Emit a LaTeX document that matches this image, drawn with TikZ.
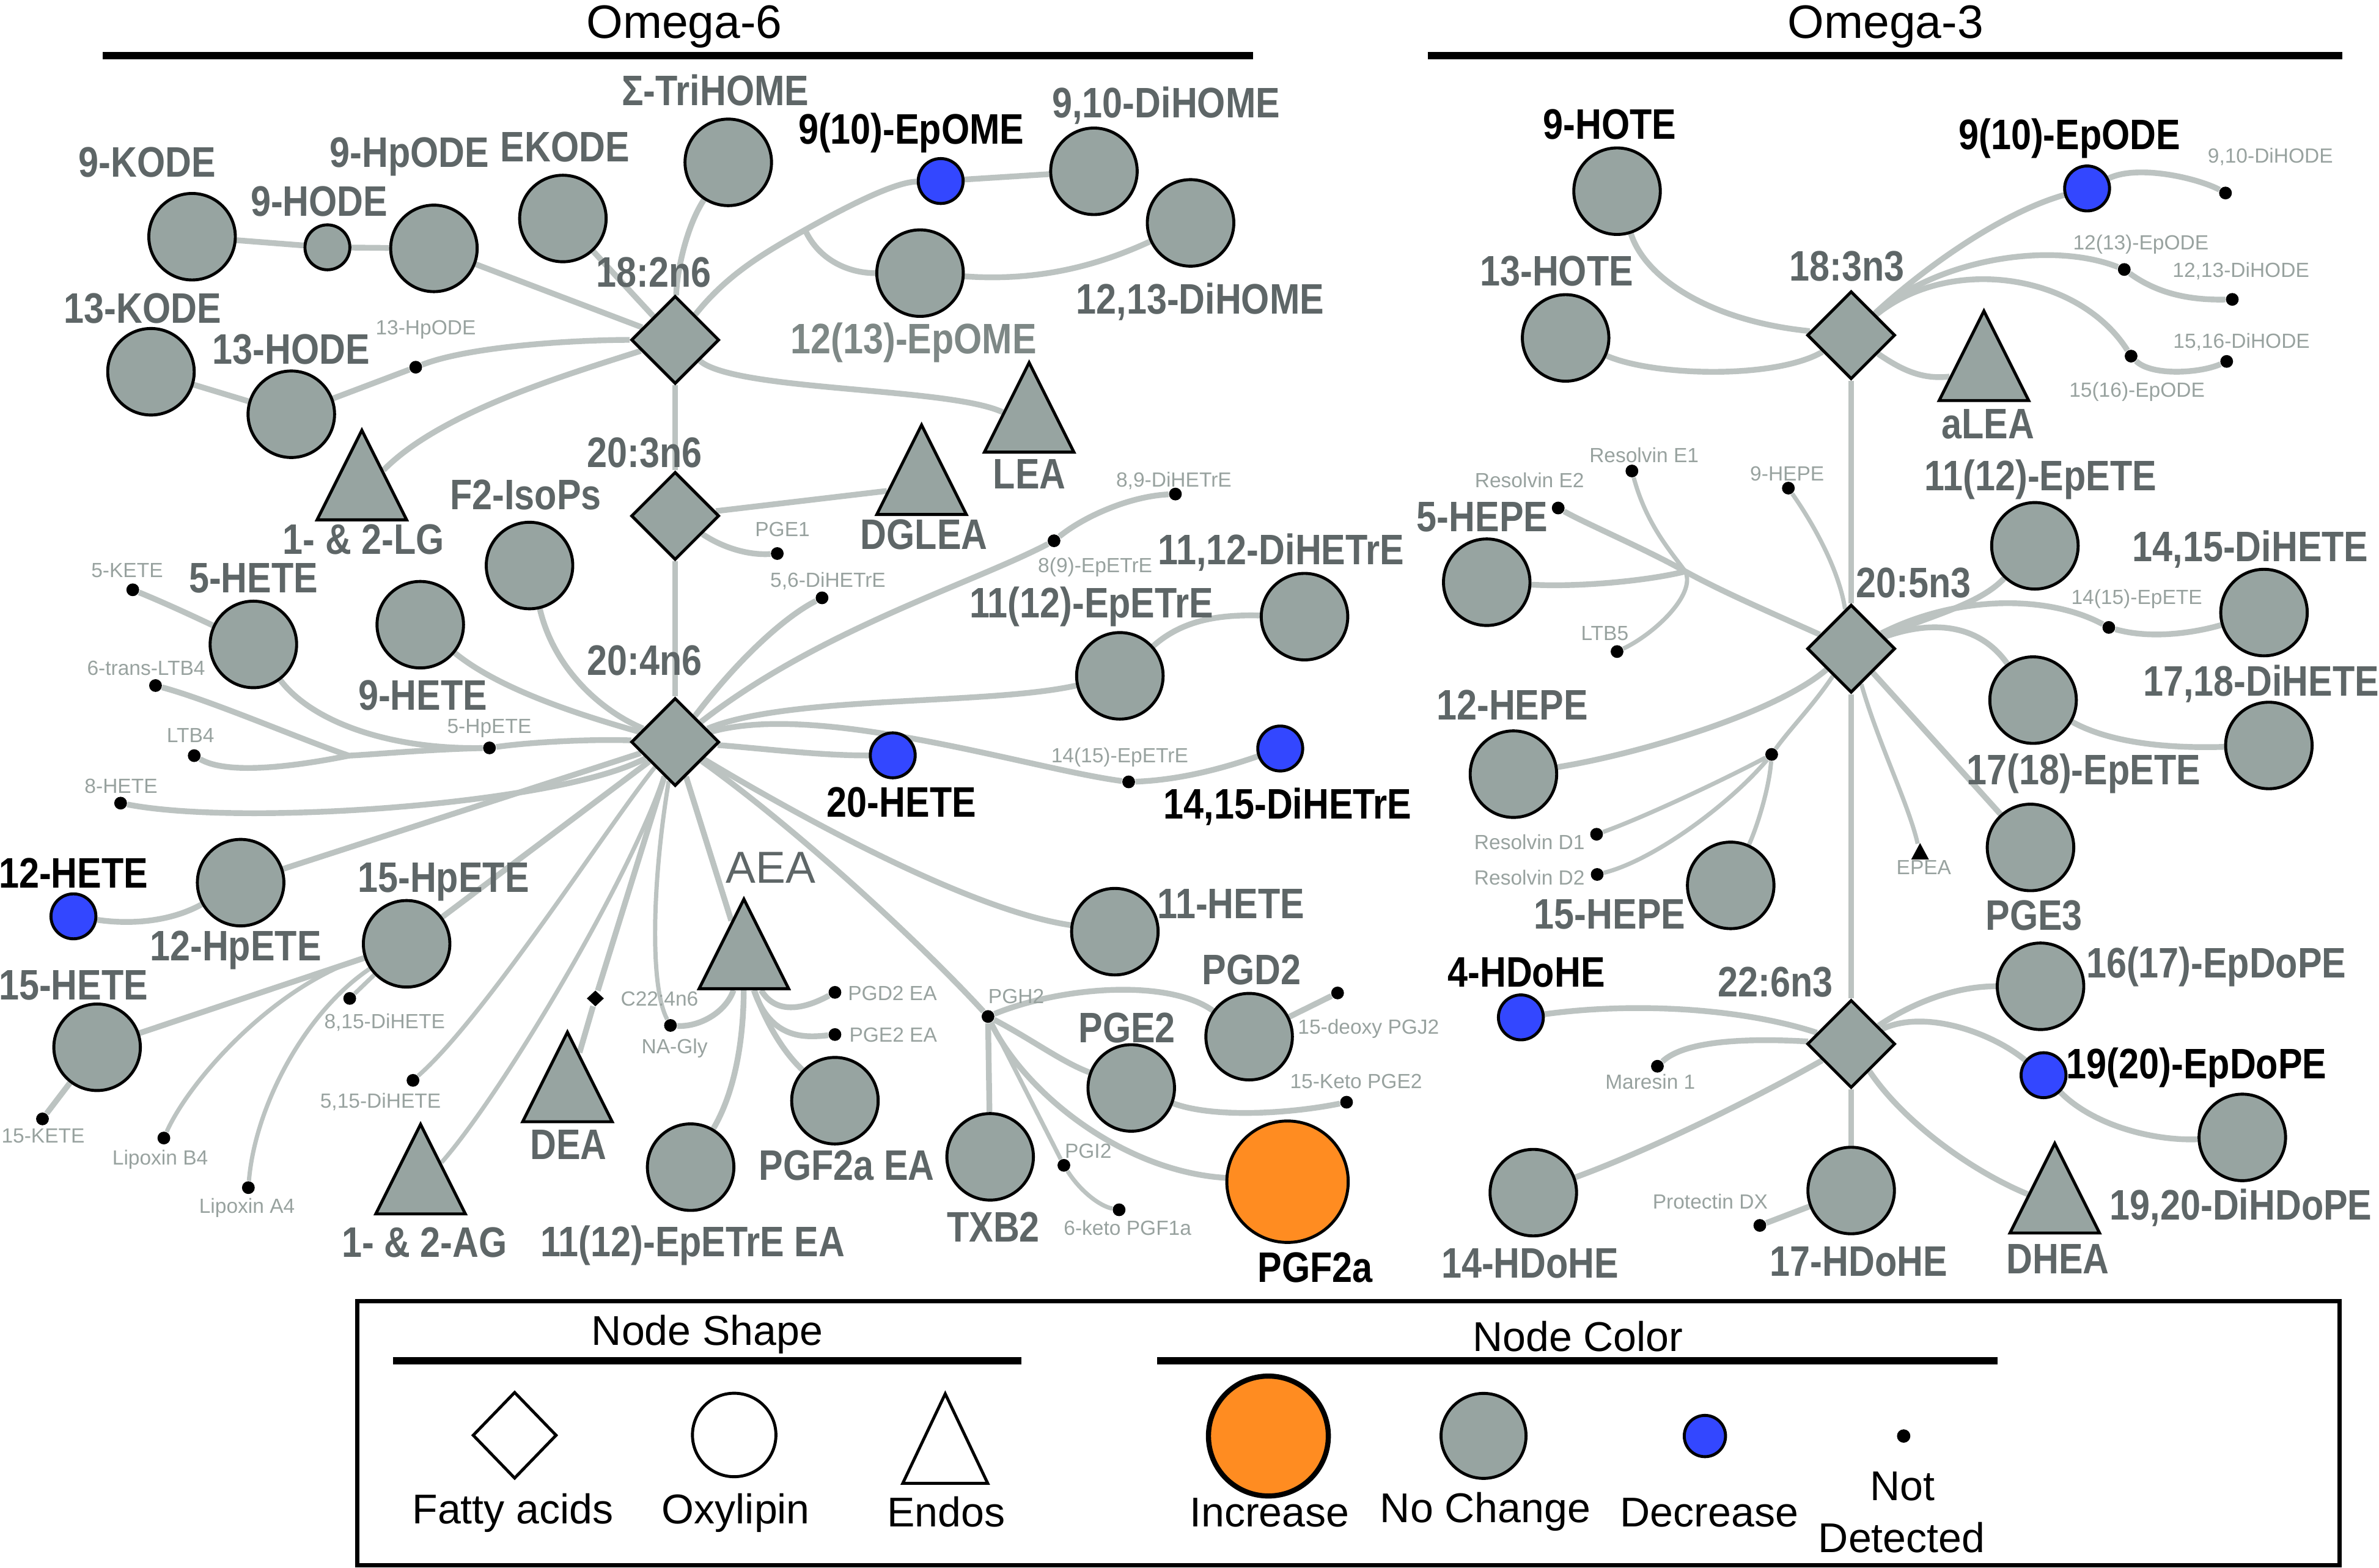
\documentclass[tikz,border=0pt]{standalone}
\usepackage{fontspec}
\setmainfont{Liberation Sans}
\newfontfamily\lblfont{Liberation Sans}[FakeStretch=0.85]
\usetikzlibrary{shapes.geometric,backgrounds}
\definecolor{nodeGray}{HTML}{97A4A1}
\definecolor{linkGray}{HTML}{BCC3C1}
\definecolor{textGray}{HTML}{5E6667}
\definecolor{paleGray}{HTML}{7E8886}
\definecolor{ndGray}{HTML}{98A29F}
\definecolor{decBlue}{HTML}{3347FF}
\definecolor{incOrange}{HTML}{FF8C21}

\begin{document}
\begin{tikzpicture}[x=0.025cm,y=-0.025cm,
    oxy/.style={circle,draw=black,line width=1.4pt,fill=nodeGray,minimum size=1.425cm,inner sep=0pt},
    oxysmall/.style={oxy,minimum size=0.74cm},
    dec/.style={oxy,fill=decBlue,minimum size=0.74cm},
    inc/.style={oxy,fill=incOrange,minimum size=2cm},
    fatty/.style={diamond,draw=black,line width=1.4pt,fill=nodeGray,minimum width=1.45cm,minimum height=1.45cm,inner sep=0pt},
    endo/.style={isosceles triangle,shape border rotate=90,isosceles triangle stretches,draw=black,line width=1.4pt,fill=nodeGray,minimum width=1.475cm,minimum height=1.475cm,inner sep=0pt,anchor=apex},
    nd/.style={circle,fill=black,minimum size=0.21cm,inner sep=0pt},
    big/.style={font=\lblfont\bfseries\fontsize{20}{24}\selectfont,text=textGray,inner sep=0pt,text height=14.3pt,text depth=0pt},
    bigk/.style={big,text=black},
    small/.style={font=\fontsize{9.6}{11}\selectfont,text=ndGray,inner sep=0pt,text height=6.9pt,text depth=0pt},
    link/.style={draw=linkGray,line width=2.7pt},
    thinlink/.style={link,line width=2pt},
    legtext/.style={font=\fontsize{19.5}{23}\selectfont,inner sep=0pt,text height=14pt,text depth=0pt}]
  \useasboundingbox (0,0) rectangle (1568,1033);

  % titles
  \node[font=\fontsize{22}{26}\selectfont,inner sep=0pt,text height=15.8pt,text depth=0pt] (om6) at (451,14) {Omega-6};
  \node[font=\fontsize{22}{26}\selectfont,inner sep=0pt,text height=15.8pt,text depth=0pt] (om3) at (1242.8,14) {Omega-3};
  \draw[line width=3.3pt] (67.8,36.6) -- (826,36.6);
  \draw[line width=3.3pt] (941,36.6) -- (1543.7,36.6);

  % fatty acids
  \foreach \n/\x/\y/\lx/\ly/\t in {fa182/445/224/431/179/18:2n6, fa203/445/340/425/298/20:3n6,
      fa204/445/489/425/435/20:4n6, fa183/1220.1/220.9/1217.3/175.2/18:3n3,
      fa205/1220.1/427.5/1261.2/383.8/20:5n3, fa226/1220.1/688/1170.2/646.8/22:6n3}{
    \node[fatty] (\n) at (\x,\y) {};
    \node[big] (\n-t) at (\lx,\ly) {\t};
  }

  % oxylipins, no change
  \foreach \n/\x/\y/\lx/\ly/\t in {kode9/126.6/156/97/106.5/9-KODE, hpode9/286/163.7/270/100/9-HpODE,
      ekode/371/144/372.4/96.5/EKODE, trihome/480/107/471.5/59.5/Σ-TriHOME,
      dihome910/721/112.9/768.6/67.4/{9,10-DiHOME}, dihome1213/784.7/146.9/791/196.7/{12,13-DiHOME},
      kode13/99.5/245/94/203/13-KODE, hode13/192/273/192/229.8/13-HODE,
      isops/349/372.7/346.5/325.8/F2-IsoPs, hete5/167/424.7/167/380.7/5-HETE,
      hete9/277/411.7/278.6/458/9-HETE, hpete12/158.6/581.7/155.3/623/12-HpETE,
      hpete15/268/622/292.3/577.8/15-HpETE, hete15/64/690.2/48.4/648.8/15-HETE,
      epetreea/455.2/769.2/456.5/818/11(12)-EpETrE EA, pgf2aea/550.3/725.4/558/767.5/PGF2a EA,
      hete11/734.8/614/811.3/595.4/11-HETE, pgd2/823.3/683.2/824.8/638.7/PGD2,
      pge2/745.6/717/742.8/677/PGE2, txb2/652.6/762.4/654.7/808.4/TXB2,
      epetre11/738.1/445.4/719.4/397/11(12)-EpETrE, dihetre1112/859.8/406.4/844.4/362/{11,12-DiHETrE},
      hote13/1031.9/222.7/1026/178.3/13-HOTE, hepe5/979.9/383.7/977/340.3/5-HEPE,
      epete11/1341.2/359.7/1345/313.4/11(12)-EpETE, dihete1415/1492.2/403.7/1483.2/360/{14,15-DiHETE},
      epete17/1340/461.4/1373.3/507/17(18)-EpETE, dihete1718/1495.4/491.3/1490.3/448.5/{17,18-DiHETE},
      pge3/1338.3/558.5/1340.6/603/PGE3, hepe12/997.5/510.2/996.7/464.5/12-HEPE,
      hepe15/1140.7/583.5/1061/602/15-HEPE, epdope16/1344.9/650/1460.7/634.4/16(17)-EpDoPE,
      dihdope/1477.9/749.6/1477/793.8/{19,20-DiHDoPE}, hdohe14/1010.6/786/1008.5/832.3/14-HDoHE,
      hdohe17/1220.1/784.6/1225/830.8/17-HDoHE}{
    \node[oxy] (\n) at (\x,\y) {};
    \node[big] (\n-t) at (\lx,\ly) {\t};
  }
  \node[oxysmall] (hode9) at (215.8,163) {};
  \node[big] (hode9-t) at (210.4,132.5) {9-HODE};
  \node[oxy] (epome12) at (606.4,180) {};
  \node[big,text=paleGray] (epome12-t) at (602.2,223.2) {12(13)-EpOME};
  \node[oxy] (hote9) at (1065.8,126) {};
  \node[bigk] (hote9-t) at (1061,81.5) {9-HOTE};

  % decreased and increased
  \foreach \n/\x/\y/\lx/\ly/\t in {epome9/620/119.3/600.6/85/9(10)-EpOME, hete12/48.4/603.9/48.4/575/12-HETE,
      hete20/588.4/497.8/594.2/528.5/20-HETE, dihetre1415/843.8/493.3/848.7/529.5/{14,15-DiHETrE},
      epode9/1375.6/124.2/1364/88.5/9(10)-EpODE, hdohe4/1002.4/670.5/1006/640.4/4-HDoHE,
      epdope19/1346.9/708.6/1447.8/700.7/19(20)-EpDoPE}{
    \node[dec] (\n) at (\x,\y) {};
    \node[bigk] (\n-t) at (\lx,\ly) {\t};
  }
  \node[inc] (pgf2a) at (848.6,778.8) {};
  \node[bigk] (pgf2a-t) at (866.8,834.8) {PGF2a};

  % endocannabinoids
  \foreach \n/\x/\y/\lx/\ly/\t in {lg/238.5/281/239.6/355/1- \& 2-LG, lea/678.3/236.4/678.5/312.2/LEA,
      dglea/607.4/277.5/609/352/DGLEA, ag/277.2/738.4/279.8/818.3/1- \& 2-AG,
      dea/374/677.7/374.6/753.9/DEA, alea/1307.6/202.4/1310.3/279.2/aLEA,
      dhea/1354.3/751/1356.3/829.2/DHEA}{
    \node[endo] (\n) at (\x,\y) {};
    \node[big] (\n-t) at (\lx,\ly) {\t};
  }
  \node[endo] (aea) at (490.3,590) {};
  \node[big,font=\fontsize{21}{25}\selectfont] (aea-t) at (508,572) {AEA};

  % not detected
  \foreach \n/\x/\y/\lx/\ly/\t in {hpode13/274/242/280.6/215.8/13-HpODE, pge1/512.3/364.8/515.7/348.8/PGE1,
      dihetre56/541.8/394/545.7/382.3/{5,6-DiHETrE}, epetre8/694.7/356.4/721.8/372.4/8(9)-EpETrE,
      dihetre89/774.7/325.6/773.7/316/{8,9-DiHETrE}, epetre14/743.9/515.3/738/497.8/14(15)-EpETrE,
      kete5/87.5/388.7/83.8/375.7/5-KETE, ltbt/102.5/451.8/96.3/440/6-trans-LTB4,
      ltb4/128/498/125.6/484.5/LTB4, hpete5/322.6/492.9/322.5/478.3/5-HpETE,
      hete8/79.5/529.3/79.8/518/8-HETE, dihete815/230.5/658/253.5/672.9/{8,15-DiHETE},
      dihete515/272.2/712/250.8/725.5/{5,15-DiHETE}, kete15/28/737.4/28.4/748.2/15-KETE,
      lxb4/108/750/105.6/762.8/Lipoxin B4, lxa4/163.7/782.7/162.8/794.5/Lipoxin A4,
      nagly/441.9/675.8/444.6/689.7/NA-Gly, pgd2ea/550.3/654/588.2/654.6/PGD2 EA,
      pge2ea/550.3/681.8/588.7/682/PGE2 EA, pgh2/651.2/669.9/669.8/656.3/PGH2,
      pgj2/881.6/654.4/902/676.5/15-deoxy PGJ2, ketopge2/887.5/726.4/893.8/712.5/15-Keto PGE2,
      pgi2/701.2/768/717.2/758.5/PGI2, ketopgf/737.6/797.3/743.2/809/6-keto PGF1a,
      dihode910/1466.8/127.2/1496.4/102.5/{9,10-DiHODE}, epode12/1400.1/177.6/1411/159.6/12(13)-EpODE,
      dihode1213/1471.3/197.3/1477/178/{12,13-DiHODE}, epode15/1404.6/234.7/1408.5/256.7/15(16)-EpODE,
      dihode1516/1467.6/238.2/1477.4/224.6/{15,16-DiHODE}, rve1/1075.6/310.4/1083.6/299.8/Resolvin E1,
      rve2/1027/334.8/1008.1/316.4/Resolvin E2, hepe9/1178.7/321.7/1177.9/312/9-HEPE,
      ltb5/1065.8/429.4/1057.7/417/LTB5, epete14/1389.9/413.5/1408.3/393.5/14(15)-EpETE,
      rvd1/1052.3/549.8/1008.1/554.8/Resolvin D1, rvd2/1052.7/576.3/1008.1/578.5/Resolvin D2,
      mar1/1092.4/702.7/1087.7/713/Maresin 1, pdx/1159.9/807.6/1127.2/792/Protectin DX}{
    \node[nd] (\n) at (\x,\y) {};
    \node[small] (\n-t) at (\lx,\ly) {\t};
  }
  \node[nd] (hpdot) at (1167.7,497.2) {};
  \node[fatty,fill=black,draw=none,minimum width=0.3cm,minimum height=0.28cm] (c224) at (392.4,658) {};
  \node[small] (c224-t) at (434.7,658) {C22:4n6};
  \node[endo,fill=black,draw=none,minimum width=0.29cm,minimum height=0.27cm] (epea) at (1265.5,553) {};
  \node[small] (epea-t) at (1268,571.6) {EPEA};

  \coordinate (jepome) at (530.6,151.5);
  \coordinate (jltb) at (230,498);
  \coordinate (jhepe) at (1110.8,376.6);

  \begin{scope}[on background layer]
    % 18:2n6 and 20:3n6
    \draw[link] (kode9) -- (hode9) -- (hpode9);
    \draw[link] (hpode9) -- (fa182);
    \draw[link] (ekode) -- (fa182);
    \draw[link] (trihome) .. controls (452,150) and (446,180) .. (fa182);
    \draw[link] (fa182) .. controls (480,180) and (505,166) .. (jepome) .. controls (560,135) and (590,120) .. (epome9);
    \draw[link] (epome9) -- (dihome910);
    \draw[link] (jepome) .. controls (540,172) and (560,180) .. (epome12);
    \draw[link] (epome12) .. controls (690,186) and (730,172) .. (dihome1213);
    \draw[link] (fa182) .. controls (485,258) and (625,255) .. (lea);
    \draw[link] (fa182) .. controls (380,224) and (310,228) .. (hpode13) -- (hode13) -- (kode13);
    \draw[link] (fa182) .. controls (370,248) and (290,272) .. (lg);
    \draw[link] (fa182) -- (fa203) -- (fa204);
    \draw[link] (fa203) -- (dglea);
    \draw[link] (fa203) .. controls (478,362) and (495,366) .. (pge1);
    % 20:4n6, left side
    \draw[link] (isops) .. controls (365,440) and (395,468) .. (fa204);
    \draw[link] (hete9) .. controls (330,455) and (385,472) .. (fa204);
    \draw[link] (fa204) .. controls (390,487) and (350,489) .. (hpete5);
    \draw[link] (hpete5) .. controls (255,494) and (205,475) .. (hete5);
    \draw[link] (hpete5) .. controls (280,494) and (250,497) .. (jltb) .. controls (200,488) and (140,462) .. (ltbt);
    \draw[link] (jltb) .. controls (195,505) and (150,511) .. (ltb4);
    \draw[link] (kete5) .. controls (110,398) and (125,405) .. (hete5);
    \draw[link] (fa204) .. controls (370,530) and (160,545) .. (hete8);
    \draw[link] (fa204) -- (hpete12);
    \draw[link] (hete12) .. controls (90,610) and (115,606) .. (hpete12);
    \draw[link] (fa204) -- (hpete15);
    \draw[link] (hpete15) -- (hete15) -- (kete15);
    \draw[thinlink] (hpete15) .. controls (180,650) and (125,712) .. (lxb4);
    \draw[thinlink] (hpete15) .. controls (200,668) and (168,730) .. (lxa4);
    \draw[thinlink] (hpete15) -- (dihete815);
    \draw[thinlink] (fa204) .. controls (400,545) and (320,670) .. (dihete515);
    \draw[thinlink] (fa204) .. controls (415,580) and (330,722) .. (ag);
    \draw[link] (fa204) -- (c224) -- (dea);
    \draw[thinlink] (fa204) .. controls (430,580) and (428,650) .. (nagly);
    \draw[link] (aea) .. controls (478,668) and (460,677) .. (nagly);
    \draw[link] (fa204) -- (aea);
    \draw[link] (aea) .. controls (490,690) and (483,722) .. (epetreea);
    \draw[link] (aea) .. controls (512,670) and (532,664) .. (pgd2ea);
    \draw[link] (aea) .. controls (508,685) and (530,684) .. (pge2ea);
    \draw[link] (aea) .. controls (504,672) and (515,692) .. (pgf2aea);
    % 20:4n6, right side
    \draw[link] (fa204) .. controls (530,540) and (640,600) .. (hete11);
    \draw[link] (fa204) .. controls (530,550) and (610,625) .. (pgh2);
    \draw[link] (pgh2) .. controls (700,650) and (770,645) .. (pgd2);
    \draw[link] (pgd2) -- (pgj2);
    \draw[link] (pgh2) .. controls (680,685) and (700,700) .. (pge2);
    \draw[link] (pge2) .. controls (800,737) and (850,734) .. (ketopge2);
    \draw[link] (pgh2) -- (txb2);
    \draw[thinlink] (pgh2) -- (pgi2) .. controls (712,785) and (725,795) .. (ketopgf);
    \draw[link] (pgh2) .. controls (675,720) and (740,772) .. (pgf2a);
    \draw[link] (fa204) .. controls (500,493) and (540,498) .. (hete20);
    \draw[link] (fa204) .. controls (540,462) and (680,507) .. (epetre14);
    \draw[link] (epetre14) .. controls (780,514) and (810,505) .. (dihetre1415);
    \draw[link] (fa204) .. controls (520,458) and (650,465) .. (epetre11);
    \draw[link] (epetre11) .. controls (780,408) and (805,405) .. (dihetre1112);
    \draw[link] (fa204) .. controls (540,415) and (640,385) .. (epetre8) .. controls (715,340) and (745,327) .. (dihetre89);
    \draw[link] (fa204) .. controls (490,430) and (520,405) .. (dihetre56);
    % 18:3n3
    \draw[link] (hote9) .. controls (1085,185) and (1130,212) .. (fa183);
    \draw[link] (hote13) .. controls (1090,248) and (1170,250) .. (fa183);
    \draw[link] (fa183) .. controls (1270,175) and (1320,140) .. (epode9) .. controls (1410,108) and (1450,118) .. (dihode910);
    \draw[link] (fa183) .. controls (1275,172) and (1350,158) .. (epode12) .. controls (1420,192) and (1440,198) .. (dihode1213);
    \draw[link] (fa183) .. controls (1285,168) and (1370,180) .. (epode15) .. controls (1418,248) and (1450,246) .. (dihode1516);
    \draw[link] (fa183) .. controls (1255,245) and (1268,250) .. (alea);
    \draw[link] (fa183) -- (fa205) -- (fa226) -- (hdohe17);
    % 20:5n3
    \draw[link] (fa205) .. controls (1170,405) and (1135,390) .. (jhepe) .. controls (1085,362) and (1045,345) .. (rve2);
    \draw[thinlink] (rve1) .. controls (1085,345) and (1100,362) .. (jhepe) .. controls (1118,392) and (1090,418) .. (ltb5);
    \draw[link] (hepe5) .. controls (1040,387) and (1085,383) .. (jhepe);
    \draw[thinlink] (hepe9) .. controls (1195,345) and (1212,375) .. (fa205);
    \draw[link] (fa205) .. controls (1275,405) and (1305,398) .. (epete11);
    \draw[link] (fa205) .. controls (1290,392) and (1350,392) .. (epete14) .. controls (1420,422) and (1450,416) .. (dihete1415);
    \draw[link] (fa205) .. controls (1275,408) and (1305,412) .. (epete17);
    \draw[link] (epete17) .. controls (1395,492) and (1440,493) .. (dihete1718);
    \draw[link] (fa205) -- (pge3);
    \draw[thinlink] (fa205) .. controls (1238,490) and (1258,530) .. (epea);
    \draw[link] (fa205) .. controls (1170,470) and (1080,497) .. (hepe12);
    \draw[thinlink] (fa205) .. controls (1195,465) and (1180,480) .. (hpdot);
    \draw[thinlink] (hpdot) .. controls (1130,517) and (1080,540) .. (rvd1);
    \draw[thinlink] (hpdot) .. controls (1140,530) and (1090,567) .. (rvd2);
    \draw[thinlink] (hpdot) .. controls (1166,520) and (1158,545) .. (hepe15);
    % 22:6n3
    \draw[link] (fa226) .. controls (1150,665) and (1080,660) .. (hdohe4);
    \draw[link] (fa226) .. controls (1150,684) and (1110,686) .. (mar1);
    \draw[link] (fa226) .. controls (1160,722) and (1090,757) .. (hdohe14);
    \draw[link] (hdohe17) -- (pdx);
    \draw[link] (fa226) .. controls (1255,740) and (1300,772) .. (dhea);
    \draw[link] (fa226) .. controls (1262,660) and (1290,650) .. (epdope16);
    \draw[link] (fa226) .. controls (1268,665) and (1312,680) .. (epdope19) .. controls (1380,742) and (1420,752) .. (dihdope);
  \end{scope}

  % legend
  \draw[line width=2pt] (235.5,857.5) rectangle (1542,1031.5);
  \node[legtext] (legShape) at (466.2,876.5) {Node Shape};
  \draw[line width=3.3pt] (259,896.8) -- (673.4,896.8);
  \node[legtext] (legColor) at (1040,880.7) {Node Color};
  \draw[line width=3.3pt] (762.6,896.8) -- (1316.6,896.8);
  \node[fatty,fill=white,minimum width=1.385cm,minimum height=1.43cm] (legFa) at (339.2,945.9) {};
  \node[oxy,fill=white,minimum size=1.375cm] (legOx) at (483.9,945.7) {};
  \node[endo,fill=white,minimum width=1.4cm,minimum height=1.475cm] (legEndo) at (623,916) {};
  \node[legtext,anchor=base] (legFaT) at (338,1004) {Fatty acids};
  \node[legtext,anchor=base] (legOxT) at (485,1004) {Oxylipin};
  \node[legtext,anchor=base] (legEndoT) at (623.5,1006) {Endos};
  \node[inc,line width=2.4pt,minimum size=1.975cm] (legInc) at (836,946.4) {};
  \node[oxy,minimum size=1.4cm] (legNc) at (977.8,946.3) {};
  \node[dec,minimum size=0.68cm] (legDec) at (1123.7,946.4) {};
  \node[nd,minimum size=0.22cm] (legNd) at (1254.7,946.4) {};
  \node[legtext,anchor=base] (legIncT) at (836.7,1006) {Increase};
  \node[legtext,anchor=base] (legNcT) at (979,1003.5) {No Change};
  \node[legtext,anchor=base] (legDecT) at (1126.6,1006) {Decrease};
  \node[legtext,anchor=base] (legNdT) at (1254,989) {Not};
  \node[legtext,anchor=base] (legNdT2) at (1253.4,1023) {Detected};
\end{tikzpicture}
\end{document}
